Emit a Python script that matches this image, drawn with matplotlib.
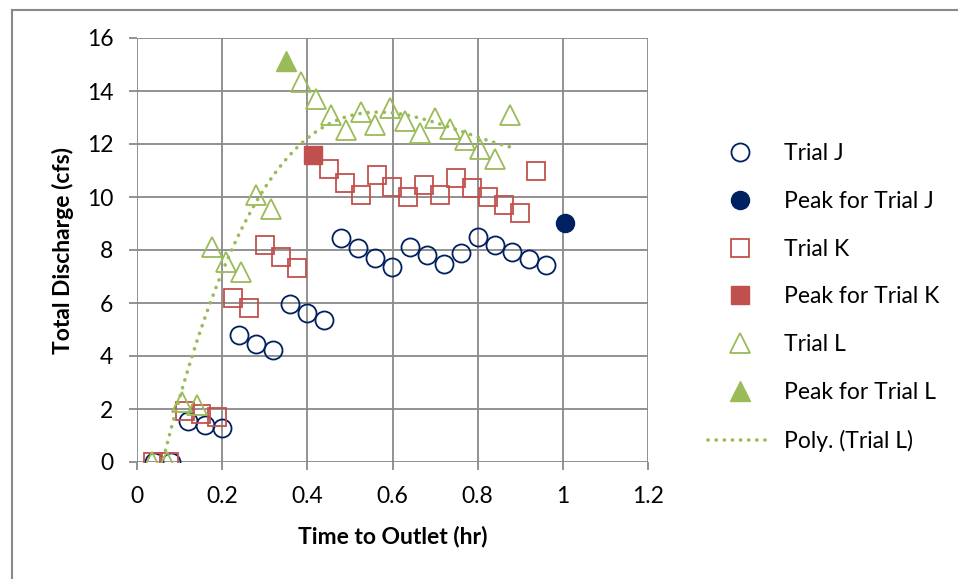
import numpy as np
import matplotlib
matplotlib.use('Agg')
import matplotlib.pyplot as plt
from matplotlib.lines import Line2D

plt.rcParams['font.family'] = ['Lato', 'DejaVu Sans']

# Trial J (circles)
trial_j_x = [0.04, 0.08, 0.12, 0.16, 0.20, 0.24, 0.28, 0.32, 0.36, 0.40, 0.44, 0.48,
             0.52, 0.56, 0.60, 0.64, 0.68, 0.72, 0.76, 0.80, 0.84, 0.88, 0.92, 0.96]
trial_j_y = [0, 0, 1.55, 1.40, 1.30, 4.80, 4.47, 4.22, 5.96, 5.64, 5.35, 8.46,
             8.06, 7.71, 7.37, 8.12, 7.81, 7.49, 7.87, 8.50, 8.18, 7.93, 7.65, 7.43]
peak_j_x = [1.005]
peak_j_y = [9.02]

# Trial K (squares)
trial_k_x = [0.0375, 0.075, 0.1125, 0.15, 0.1875, 0.225, 0.2625, 0.30, 0.3375, 0.375,
             0.45, 0.4875, 0.525, 0.5625, 0.60, 0.6375, 0.675, 0.7125, 0.75, 0.7875,
             0.825, 0.8625, 0.90, 0.9375]
trial_k_y = [0, 0, 1.92, 1.82, 1.68, 6.19, 5.82, 8.18, 7.74, 7.33,
             11.04, 10.51, 10.07, 10.83, 10.39, 10.00, 10.45, 10.07, 10.70, 10.35,
             10.00, 9.69, 9.40, 11.00]
peak_k_x = [0.4125]
peak_k_y = [11.58]

# Trial L (triangles)
trial_l_x = [0.035, 0.07, 0.105, 0.14, 0.175, 0.21, 0.245, 0.28, 0.315,
             0.385, 0.42, 0.455, 0.49, 0.525, 0.56, 0.595, 0.63, 0.665, 0.70,
             0.735, 0.77, 0.805, 0.84, 0.875]
trial_l_y = [0, 0, 2.27, 2.14, 8.12, 7.55, 7.18, 10.07, 9.53,
             14.35, 13.69, 13.09, 12.53, 13.22, 12.72, 13.35, 12.87, 12.43, 13.00,
             12.55, 12.15, 11.80, 11.43, 13.09]
peak_l_x = [0.35]
peak_l_y = [15.15]

navy = '#002060'
red = '#C0504D'
green = '#9BBB59'
grid_gray = '#898989'
fs = 16.5

fig = plt.figure(figsize=(9.58, 5.79), dpi=100)
ax = fig.add_axes([137 / 958, 1 - 462 / 579, (648 - 137) / 958, (462 - 38) / 579])

ms = 13
mew = 1.3
ax.plot(trial_j_x, trial_j_y, 'o', ms=ms, mfc='none', mec=navy, mew=mew, label='Trial J', zorder=3)
ax.plot(peak_j_x, peak_j_y, 'o', ms=ms, color=navy, label='Peak for Trial J', zorder=3)
ax.plot(trial_k_x, trial_k_y, 's', ms=ms, mfc='none', mec=red, mew=mew, label='Trial K', zorder=3)
ax.plot(peak_k_x, peak_k_y, 's', ms=ms, color=red, label='Peak for Trial K', zorder=3)
ax.plot(trial_l_x, trial_l_y, '^', ms=ms + 1, mfc='none', mec=green, mew=mew, label='Trial L', zorder=3)
ax.plot(peak_l_x, peak_l_y, '^', ms=ms + 1, color=green, label='Peak for Trial L', zorder=3)

# cubic trendline through Trial L
coef = np.polyfit(trial_l_x, trial_l_y, 3)
xs = np.linspace(trial_l_x[0], trial_l_x[-1], 200)
ax.plot(xs, np.polyval(coef, xs), color=green, lw=2.6, ls=(0, (0.05, 2.2)),
        dash_capstyle='round', label='Poly. (Trial L)', zorder=4)

ax.set_xlim(0, 1.2)
ax.set_ylim(0, 16)
ax.set_xticks(np.arange(0, 1.21, 0.2))
ax.set_xticklabels(['0', '0.2', '0.4', '0.6', '0.8', '1', '1.2'])
ax.set_yticks(np.arange(0, 17, 2))
ax.grid(True, color=grid_gray, lw=1.3)
ax.set_axisbelow(True)
for s in ax.spines.values():
    s.set_visible(False)
ax.tick_params(axis='both', length=6, width=1.3, color=grid_gray, labelsize=fs, pad=11)

ax.set_xlabel('Time to Outlet (hr)', fontsize=fs, fontweight='bold', labelpad=14)
ax.set_ylabel('Total Discharge (cfs)', fontsize=fs, fontweight='bold', labelpad=9)

leg = fig.legend(loc='upper left', bbox_to_anchor=(708 / 958, 1 - 143 / 579),
                 frameon=False, fontsize=fs, handlelength=2.8, handletextpad=0.5,
                 labelspacing=1.17, borderpad=0, borderaxespad=0)

# outer chart border
fig.add_artist(Line2D([12 / 958, 12 / 958], [0, 1 - 10 / 579], transform=fig.transFigure,
                      color=grid_gray, lw=1.5))
fig.add_artist(Line2D([12 / 958, 1], [1 - 10 / 579, 1 - 10 / 579], transform=fig.transFigure,
                      color=grid_gray, lw=1.5))

fig.savefig('out.png', dpi=100)
